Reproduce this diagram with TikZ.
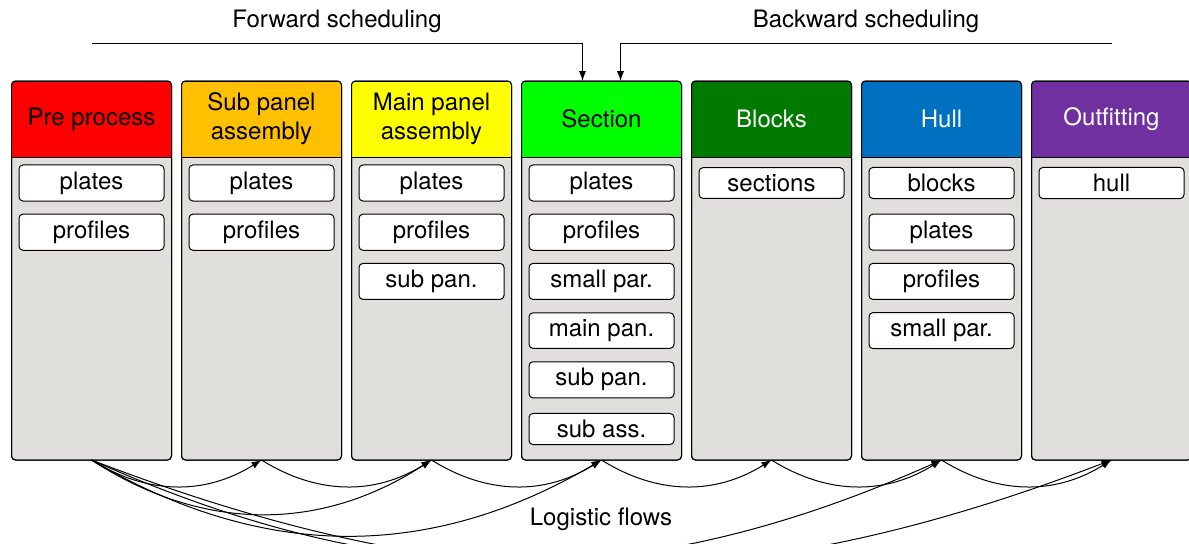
\documentclass[tikz,border=0pt]{standalone}
\usepackage{fontspec}
\setmainfont{TeX Gyre Heros}
\usetikzlibrary{arrows.meta}

\definecolor{panelgray}{RGB}{224,223,219}
\definecolor{stagered}{RGB}{255,0,0}
\definecolor{stageorange}{RGB}{255,192,0}
\definecolor{stageyellow}{RGB}{255,255,0}
\definecolor{stagegreen}{RGB}{0,255,0}
\definecolor{stagedarkgreen}{RGB}{0,122,0}
\definecolor{stageblue}{RGB}{0,112,192}
\definecolor{stagepurple}{RGB}{112,48,160}

% one production stage: grey column with a coloured title bar
\newcommand\drawstage[5]{%
  \node[colbody] (#1) at (#2,270.5) {};
  \begin{scope}
    \clip[rounded corners=2pt] (#1.south west) rectangle (#1.north east);
    \node[headbox, fill=#3, text=#4] (#1-head) at (#1.north) {#5};
  \end{scope}
  \draw[line width=0.5pt, rounded corners=2pt] (#1.south west) rectangle (#1.north east);
}

\begin{document}
\begin{tikzpicture}[x=0.5pt, y=-0.5pt,
  font=\fontsize{12}{14.5}\selectfont,
  colbody/.style={rectangle, rounded corners=2pt, draw=black, line width=0.5pt,
    fill=panelgray, minimum width=80pt, minimum height=189.5pt,
    inner sep=0pt, outer sep=0pt},
  headbox/.style={rectangle, draw=black, line width=0.5pt, minimum width=80pt,
    minimum height=38pt, anchor=north, align=center, inner sep=0pt, outer sep=0pt},
  item/.style={rectangle, rounded corners=2pt, draw=black, fill=white,
    line width=0.5pt, minimum width=72.5pt},
  flow/.style={-{Latex[length=5pt,width=3.6pt]}, line width=0.5pt},
  label/.style={inner sep=0pt}]

\useasboundingbox (0,0) rectangle (1189,543);

% stages
\drawstage{pre}{91.5}{stagered}{black}{Pre process}
\drawstage{sub}{261.5}{stageorange}{black}{Sub panel\\assembly}
\drawstage{main}{431.5}{stageyellow}{black}{Main panel\\assembly}
\drawstage{sec}{601.5}{stagegreen}{black}{Section}
\drawstage{blocks}{771.5}{stagedarkgreen}{white}{Blocks}
\drawstage{hull}{941.5}{stageblue}{white}{Hull}
\drawstage{outf}{1111.5}{stagepurple}{white}{Outfitting}

% parts handled in each stage
\foreach \t [count=\i] in {plates,profiles}
  \node[item] (pre-\i) at (91.5,{183+49.2*(\i-1)}) {\t};
\foreach \t [count=\i] in {plates,profiles}
  \node[item] (sub-\i) at (261.5,{183+49.2*(\i-1)}) {\t};
\foreach \t [count=\i] in {plates,profiles,sub pan.}
  \node[item] (main-\i) at (431.5,{183+49.2*(\i-1)}) {\t};
\foreach \t [count=\i] in {plates,profiles,small par.,main pan.,sub pan.,sub ass.}
  \node[item] (sec-\i) at (601.5,{183+49.2*(\i-1)}) {\t};
\foreach \t [count=\i] in {sections}
  \node[item] (blocks-\i) at (771.5,{183+49.2*(\i-1)}) {\t};
\foreach \t [count=\i] in {blocks,plates,profiles,small par.}
  \node[item] (hull-\i) at (941.5,{183+49.2*(\i-1)}) {\t};
\foreach \t [count=\i] in {hull}
  \node[item] (outf-\i) at (1111.5,{183+49.2*(\i-1)}) {\t};

% scheduling directions
\node[label] (fwdlab) at (337,21) {Forward scheduling};
\node[label] (bwdlab) at (866,21) {Backward scheduling};
\coordinate (fwdstart) at (91.5,43);
\coordinate (bwdstart) at (1111.5,43);
\draw[flow] (fwdstart) -| ([xshift=-9.5pt]sec.north);
\draw[flow] (bwdstart) -| ([xshift=9.5pt]sec.north);

% logistic flows between stages
\node[label] (logi) at (601,519) {Logistic flows};
\draw[flow] (pre.south) to[bend right=32] (sub.south);
\draw[flow] (pre.south) to[bend right=33] (main.south);
\draw[flow] (pre.south) to[bend right=30.5] (sec.south);
\draw[flow] (pre.south) to[bend right=24] (hull.south);
\draw[flow] (pre.south) to[bend right=21] (outf.south);
\draw[flow] (sub.south) to[bend right=32] (main.south);
\draw[flow] (main.south) to[bend right=32] (sec.south);
\draw[flow] (sec.south) to[bend right=32] (blocks.south);
\draw[flow] (blocks.south) to[bend right=32] (hull.south);
\draw[flow] (hull.south) to[bend right=32] (outf.south);

\end{tikzpicture}
\end{document}
